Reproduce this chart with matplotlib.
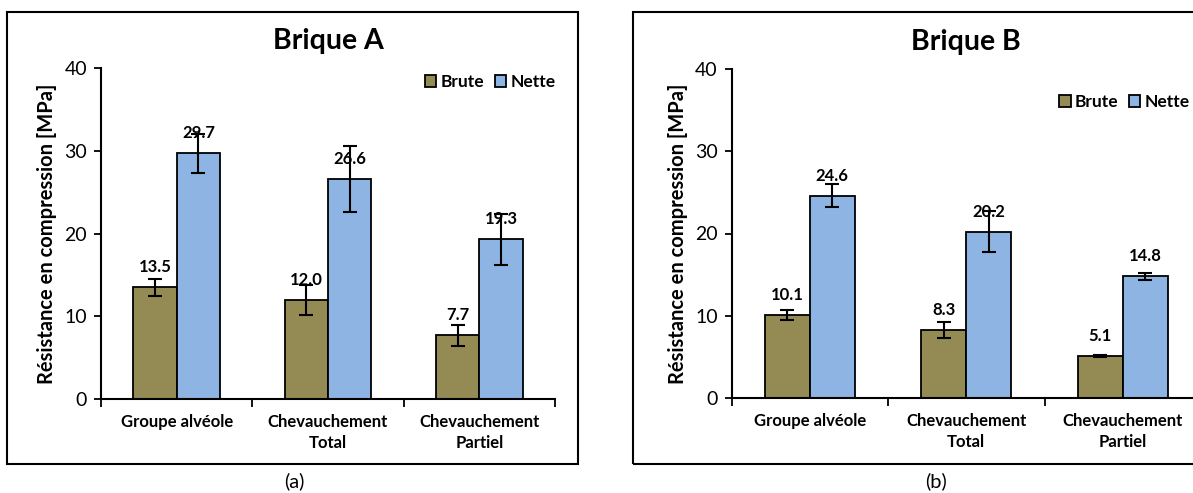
import numpy as np
import matplotlib
matplotlib.use("Agg")
import matplotlib.pyplot as plt
from matplotlib.patches import Rectangle

plt.rcParams['font.family'] = ['Lato', 'DejaVu Sans']

categories = ["Groupe alvéole", "Chevauchement\nTotal", "Chevauchement\nPartiel"]
series = ["Brute", "Nette"]

brute_a = [13.5, 12.0, 7.7]
nette_a = [29.7, 26.6, 19.3]
brute_a_err = [1.0, 1.8, 1.3]
nette_a_err = [2.4, 3.95, 3.1]

brute_b = [10.1, 8.3, 5.1]
nette_b = [24.6, 20.2, 14.8]
brute_b_err = [0.6, 1.0, 0.1]
nette_b_err = [1.4, 2.5, 0.4]

col_brute = "#948A54"
col_nette = "#8DB4E2"

W, H = 1193, 493
fig = plt.figure(figsize=(W / 100, H / 100), dpi=100)


def px(x0, x1, ytop, ybot):
    return [x0 / W, 1 - ybot / H, (x1 - x0) / W, (ybot - ytop) / H]


def panel(rect, title, brute, nette, eb, en, leg_anchor, leg_loc):
    ax = fig.add_axes(rect)
    x = np.arange(len(categories))
    w = 0.287
    ax.bar(x - w / 2, brute, w, color=col_brute, edgecolor="black", lw=1.3, label=series[0],
           yerr=eb, error_kw=dict(ecolor="black", elinewidth=1.5, capsize=5, capthick=1.5))
    ax.bar(x + w / 2, nette, w, color=col_nette, edgecolor="black", lw=1.3, label=series[1],
           yerr=en, error_kw=dict(ecolor="black", elinewidth=1.5, capsize=5, capthick=1.5))
    for xi, v in zip(x - w / 2, brute):
        ax.annotate(f"{v:.1f}", (xi, v), xytext=(0, 14.5), textcoords="offset points",
                    ha="center", va="center", fontsize=12, fontweight="bold")
    for xi, v in zip(x + w / 2, nette):
        ax.annotate(f"{v:.1f}", (xi, v), xytext=(0, 14.5), textcoords="offset points",
                    ha="center", va="center", fontsize=12, fontweight="bold")
    ax.set_xlim(-0.5, 2.5)
    ax.set_ylim(0, 40)
    ax.set_yticks([0, 10, 20, 30, 40])
    ax.tick_params(axis="y", labelsize=14, direction="out", length=5, width=1.3, pad=5)
    ax.set_xticks(x)
    ax.set_xticklabels(categories, fontsize=12, fontweight="bold", linespacing=1.35)
    ax.tick_params(axis="x", length=0, pad=11)
    ax.set_xticks([-0.5, 0.5, 1.5, 2.5], minor=True)
    ax.tick_params(axis="x", which="minor", direction="out", length=6, width=1.3)
    for s in ["top", "right"]:
        ax.spines[s].set_visible(False)
    for s in ["left", "bottom"]:
        ax.spines[s].set_linewidth(1.5)
    ax.set_ylabel("Résistance en compression [MPa]", fontsize=14.5, fontweight="bold", labelpad=5)
    ax.set_title(title, fontsize=20.5, fontweight="bold", pad=14)
    ax.legend(loc=leg_loc, bbox_to_anchor=leg_anchor, ncol=2, frameon=False,
              handlelength=0.65, handleheight=0.65, handletextpad=0.25, columnspacing=0.6,
              prop=dict(weight="bold", size=12.5))
    return ax


panel(px(101, 555, 68.3, 399), "Brique A", brute_a, nette_a, brute_a_err, nette_a_err,
      (1.035, 0.959), "center right")
panel(px(731.5, 1201, 69, 398), "Brique B", brute_b, nette_b, brute_b_err, nette_b_err,
      (0.665, 0.90), "center left")

# panel frames
fig.patches.append(Rectangle((7 / W, 1 - 464 / H), (578 - 7) / W, (464 - 12) / H,
                             transform=fig.transFigure, fill=False, ec="black", lw=1.5))
fig.patches.append(Rectangle((633 / W, 1 - 464 / H), (1260 - 633) / W, (464 - 12) / H,
                             transform=fig.transFigure, fill=False, ec="black", lw=1.5))

fig.text(294 / W, 1 - 481 / H, "(a)", ha="center", va="center", fontsize=14.5)
fig.text(936 / W, 1 - 481 / H, "(b)", ha="center", va="center", fontsize=14.5)

fig.savefig("out.png", dpi=100)
